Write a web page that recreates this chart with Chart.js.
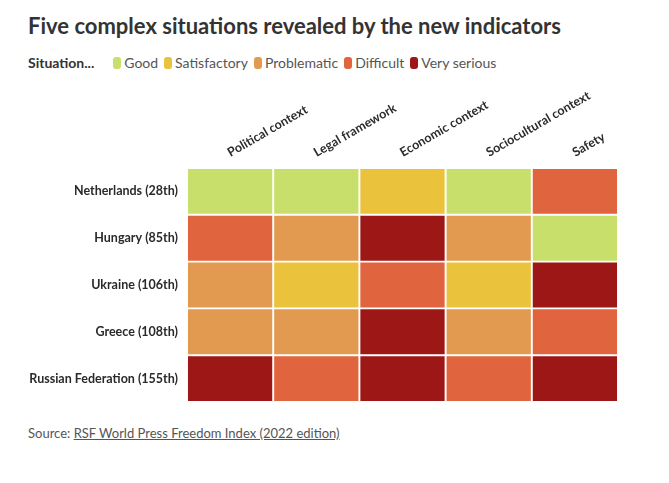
<!DOCTYPE html>
<html>
<head>
<meta charset="utf-8">
<script src="https://cdn.jsdelivr.net/npm/chart.js@4/dist/chart.umd.min.js"></script>
<style>
  html, body { margin: 0; padding: 0; background: #fff; }
  body { width: 669px; height: 483px; position: relative; overflow: hidden; font-family: Lato, "Noto Sans", sans-serif; color: #333; }
  .title { position: absolute; left: 28px; top: 13px; font-size: 22px; font-weight: 700; color: #333; line-height: 26px; white-space: nowrap; }
  .legend { position: absolute; left: 28px; top: 54px; font-size: 14px; line-height: 18px; color: #555; white-space: nowrap; display: flex; align-items: center; }
  .legend b { color: #333; margin-right: 19px; }
  .legend .sw { display: inline-block; flex: 0 0 8px; width: 8px; height: 12px; border-radius: 3px; margin-right: 3px; }
  .legend .item { display: flex; align-items: center; margin-right: 6px; }
  .source { position: absolute; left: 28px; top: 424px; font-size: 13px; line-height: 18px; color: #555; white-space: nowrap; }
  .source a { color: #555; text-decoration: underline; }
  #heatmap { position: absolute; left: 0; top: 80px; width: 669px; height: 330px; }
</style>
</head>
<body>
<div class="title">Five complex situations revealed by the new indicators</div>
<div class="legend" id="legend"><b>Situation...</b></div>
<canvas id="heatmap" width="669" height="330"></canvas>
<div class="source">Source: <a href="#">RSF World Press Freedom Index (2022 edition)</a></div>

<script>
// Data
const countries = ['Netherlands (28th)', 'Hungary (85th)', 'Ukraine (106th)', 'Greece (108th)', 'Russian Federation (155th)'];
const indicators = ['Political context', 'Legal framework', 'Economic context', 'Sociocultural context', 'Safety'];
const levels = ['Good', 'Satisfactory', 'Problematic', 'Difficult', 'Very serious'];
const levelColors = ['#c8e06b', '#ebc23c', '#e29a51', '#e0643d', '#9d1717'];

// situation level per country, one entry per indicator (index into levels)
const netherlands = [0, 0, 1, 0, 3];
const hungary = [3, 2, 4, 2, 0];
const ukraine = [2, 1, 3, 1, 4];
const greece = [2, 2, 4, 2, 3];
const russia = [4, 3, 4, 3, 4];
const situations = [netherlands, hungary, ukraine, greece, russia];

document.addEventListener('DOMContentLoaded', function() {
    buildLegend();
    initializeHeatmap();
});

function buildLegend() {
    const legend = document.getElementById('legend');
    levels.forEach((name, i) => {
        const item = document.createElement('span');
        item.className = 'item';
        item.innerHTML = `<span class="sw" style="background:${levelColors[i]}"></span>${name}`;
        legend.appendChild(item);
    });
}

function initializeHeatmap() {
    const ctx = document.getElementById('heatmap');

    // one stacked dataset per indicator column, each cell one unit wide
    const datasets = indicators.map((label, col) => ({
        label: label,
        data: countries.map(() => 1),
        backgroundColor: situations.map(row => levelColors[row[col]]),
        borderColor: '#ffffff',
        borderWidth: 1.3,
        borderSkipped: false,
        barPercentage: 1,
        categoryPercentage: 1
    }));

    new Chart(ctx, {
        type: 'bar',
        data: { labels: countries, datasets: datasets },
        options: {
            indexAxis: 'y',
            responsive: false,
            animation: false,
            devicePixelRatio: 1,
            layout: { padding: { top: 0, right: 51, bottom: 8, left: 0 } },
            plugins: {
                legend: { display: false },
                tooltip: { enabled: false }
            },
            scales: {
                x: {
                    type: 'linear',
                    position: 'top',
                    stacked: true,
                    min: 0,
                    max: indicators.length,
                    grid: { display: false, drawTicks: false },
                    border: { display: false },
                    afterBuildTicks: axis => {
                        axis.ticks = indicators.map((_, i) => ({ value: i + 0.5 }));
                    },
                    afterFit: axis => {
                        axis.height = 88;
                        axis.paddingLeft = 0;
                        axis.paddingRight = 0;
                    },
                    ticks: {
                        autoSkip: false,
                        minRotation: 30,
                        maxRotation: 30,
                        padding: 8,
                        labelOffset: 6,
                        color: '#2a2a2a',
                        font: { family: 'Lato', size: 12.5, weight: 'bold' },
                        callback: (value, index) => indicators[index]
                    }
                },
                y: {
                    stacked: true,
                    grid: { display: false, drawTicks: false },
                    border: { display: false },
                    afterFit: axis => {
                        axis.width = 187;
                        axis.paddingTop = 0;
                        axis.paddingBottom = 0;
                    },
                    ticks: {
                        padding: 9,
                        color: '#2a2a2a',
                        font: { family: 'Lato', size: 12.5, weight: 'bold' }
                    }
                }
            }
        }
    });
}
</script>
</body>
</html>
